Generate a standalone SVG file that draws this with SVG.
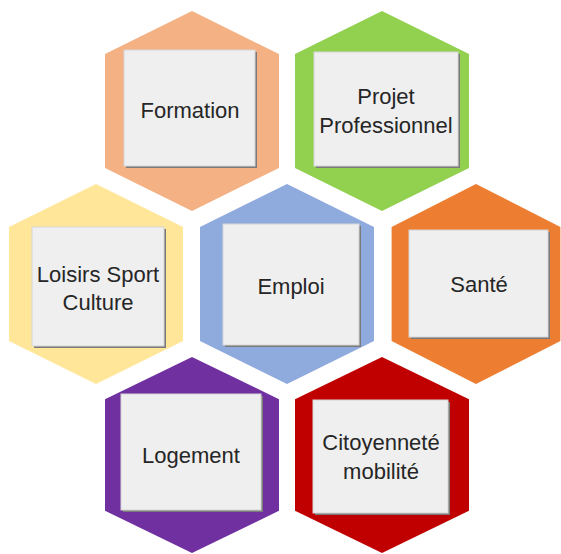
<svg xmlns="http://www.w3.org/2000/svg" xmlns:xlink="http://www.w3.org/1999/xlink" width="561" height="554" viewBox="0 0 561 554">
<style>
.sh{fill:#7a7a7a}
.bx{fill:#efefef;stroke:#d6d6d6;stroke-width:1}
.t{font-family:"Liberation Sans",Arial,sans-serif;font-size:22px;fill:#262626;text-anchor:middle}
</style>
<defs>
<polygon id="hex" points="0,-100 87,-57 87,57 0,100 -87,57 -87,-57"/>
</defs>
<rect width="561" height="554" fill="#ffffff"/>
<g id="formation">
<use xlink:href="#hex" transform="translate(192,111)" fill="#f4b183"/>
<rect class="sh" x="126" y="52" width="131" height="116"/>
<rect class="bx" x="124" y="50" width="131" height="116"/>
<text class="t" x="190" y="118">Formation</text>
</g>
<g id="projet">
<use xlink:href="#hex" transform="translate(382,111)" fill="#92d050"/>
<rect class="sh" x="316" y="54" width="144" height="114"/>
<rect class="bx" x="314" y="52" width="144" height="114"/>
<text class="t" x="386" y="104">Projet</text>
<text class="t" x="386" y="133">Professionnel</text>
</g>
<g id="loisirs">
<use xlink:href="#hex" transform="translate(96,284)" fill="#ffe699"/>
<rect class="sh" x="34" y="229" width="132" height="119"/>
<rect class="bx" x="32" y="227" width="132" height="119"/>
<text class="t" x="98" y="282">Loisirs Sport</text>
<text class="t" x="98" y="310">Culture</text>
</g>
<g id="emploi">
<use xlink:href="#hex" transform="translate(287,284)" fill="#8faadc"/>
<rect class="sh" x="225" y="226" width="136" height="121"/>
<rect class="bx" x="223" y="224" width="136" height="121"/>
<text class="t" x="291" y="294">Emploi</text>
</g>
<g id="sante">
<use xlink:href="#hex" transform="translate(476,284) scale(0.97,1)" fill="#ed7d31"/>
<rect class="sh" x="411" y="232" width="139" height="107"/>
<rect class="bx" x="409" y="230" width="139" height="107"/>
<text class="t" x="479" y="292">Santé</text>
</g>
<g id="logement">
<use xlink:href="#hex" transform="translate(192,455) scale(1,0.98)" fill="#7030a0"/>
<rect class="sh" x="123" y="396" width="140" height="116"/>
<rect class="bx" x="121" y="394" width="140" height="116"/>
<text class="t" x="191" y="463">Logement</text>
</g>
<g id="citoyennete">
<use xlink:href="#hex" transform="translate(382,455) scale(1,0.98)" fill="#c00000"/>
<rect class="sh" x="315" y="402" width="135" height="113"/>
<rect class="bx" x="313" y="400" width="135" height="113"/>
<text class="t" x="381" y="450">Citoyenneté</text>
<text class="t" x="381" y="479">mobilité</text>
</g>
</svg>
